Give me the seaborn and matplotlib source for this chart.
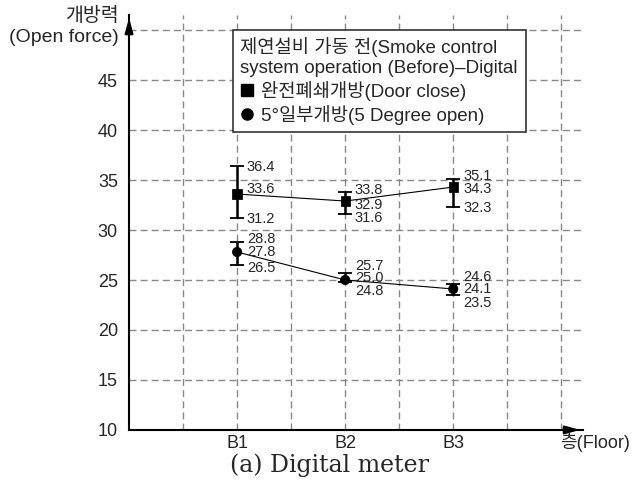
import matplotlib
matplotlib.use("Agg")
import matplotlib.pyplot as plt
import seaborn as sns
import pandas as pd
from matplotlib.lines import Line2D

# data
floors = ["B1", "B2", "B3"]
close_mean = [33.6, 32.9, 34.3]
close_max = [36.4, 33.8, 35.1]
close_min = [31.2, 31.6, 32.3]
open_mean = [27.8, 25.0, 24.1]
open_max = [28.8, 25.7, 24.6]
open_min = [26.5, 24.8, 23.5]

sns.set_style("white")
plt.rcParams["font.family"] = ["Liberation Sans", "Noto Sans CJK KR"]

fig = plt.figure(figsize=(6.42, 4.88), dpi=100)
ax = fig.add_axes([0.201, 0.119, 0.707, 0.850])

xpos = [1, 2, 3]
df = pd.DataFrame({"x": xpos * 2,
                   "y": close_mean + open_mean,
                   "s": ["close"] * 3 + ["open"] * 3})

sns.lineplot(data=df, x="x", y="y", units="s", estimator=None, color="black",
             linewidth=0.8, ax=ax, legend=False)
sns.scatterplot(data=df, x="x", y="y", style="s", markers={"close": "s", "open": "o"},
                color="black", s=45, edgecolor="black", ax=ax, legend=False, zorder=5)

for mean, lo, hi in [(close_mean, close_min, close_max), (open_mean, open_min, open_max)]:
    yerr = [[m - l for m, l in zip(mean, lo)], [h - m for m, h in zip(mean, hi)]]
    ax.errorbar(xpos, mean, yerr=yerr, fmt="none", ecolor="black", elinewidth=1.8,
                capsize=5, capthick=1.3, zorder=4)

# value labels (pixel shifts up, to keep them apart)
shift_close = [[-1, 5, -1], [2, -4, -4], [3, -2, -1]]
shift_open = [[3, 0, -3], [7, 2, -9], [7, 0, -8]]
for i, x in enumerate(xpos):
    for vals, sh in [((close_max[i], close_mean[i], close_min[i]), shift_close[i]),
                     ((open_max[i], open_mean[i], open_min[i]), shift_open[i])]:
        for v, d in zip(vals, sh):
            ax.annotate(f"{v:.1f}", (x, v), xytext=(7, d * 0.72), textcoords="offset points",
                        ha="left", va="center", fontsize=10.5)

ax.set_xlim(0, 4.2)
ax.set_ylim(10, 51.5)
ax.set_xticks([0.5, 1, 1.5, 2, 2.5, 3, 3.5, 4])
ax.set_xticklabels(["", "B1", "", "B2", "", "B3", "", ""])
ax.set_yticks([10, 15, 20, 25, 30, 35, 40, 45, 50])
ax.set_yticklabels(["10", "15", "20", "25", "30", "35", "40", "45", ""])
ax.tick_params(length=0, labelsize=13)
ax.tick_params(axis="x", pad=4)
ax.tick_params(axis="y", pad=8)
ax.grid(True, linestyle=(0, (5, 3)), color="#888888", linewidth=1.0)
ax.set_xlabel("")
ax.set_ylabel("")

for side in ["top", "right"]:
    ax.spines[side].set_visible(False)
for side in ["left", "bottom"]:
    ax.spines[side].set_linewidth(1.5)
    ax.spines[side].set_color("black")

# axis arrows
ax.annotate("", xy=(0, 1.0), xytext=(0, 0.95), xycoords="axes fraction",
            arrowprops=dict(arrowstyle="-|>,head_length=0.9,head_width=0.25", color="black", lw=1.5))
ax.annotate("", xy=(1.0, 0), xytext=(0.95, 0), xycoords="axes fraction",
            arrowprops=dict(arrowstyle="-|>,head_length=0.9,head_width=0.25", color="black", lw=1.5))

fig.text(119 / 642, 1 - 16 / 488, "개방력", ha="right", va="center", fontsize=14)
fig.text(119 / 642, 1 - 37 / 488, "(Open force)", ha="right", va="center", fontsize=14)
fig.text(595 / 642, 1 - 443 / 488, "층(Floor)", ha="center", va="center", fontsize=13)
fig.text(329 / 642, 1 - 465 / 488, "(a) Digital meter", ha="center", va="center",
         fontsize=17, family="DejaVu Serif")

handles = [Line2D([], [], marker="s", color="black", linestyle="none", markersize=8),
           Line2D([], [], marker="o", color="black", linestyle="none", markersize=8)]
leg = ax.legend(handles, ["완전폐쇄개방(Door close)", "5°일부개방(5 Degree open)"],
                title="제연설비 가동 전(Smoke control\nsystem operation (Before)–Digital",
                loc="upper left", bbox_to_anchor=(233 / 642, 1 - 30 / 488),
                bbox_transform=fig.transFigure, borderaxespad=0, fontsize=13.5,
                title_fontsize=13.5, frameon=True, fancybox=False, edgecolor="#333333",
                framealpha=1, handlelength=0.7, handletextpad=0.4, borderpad=0.4,
                labelspacing=0.2)
leg._legend_box.align = "left"
leg.get_frame().set_linewidth(1.2)

fig.savefig("out.png", dpi=100, facecolor="white")
